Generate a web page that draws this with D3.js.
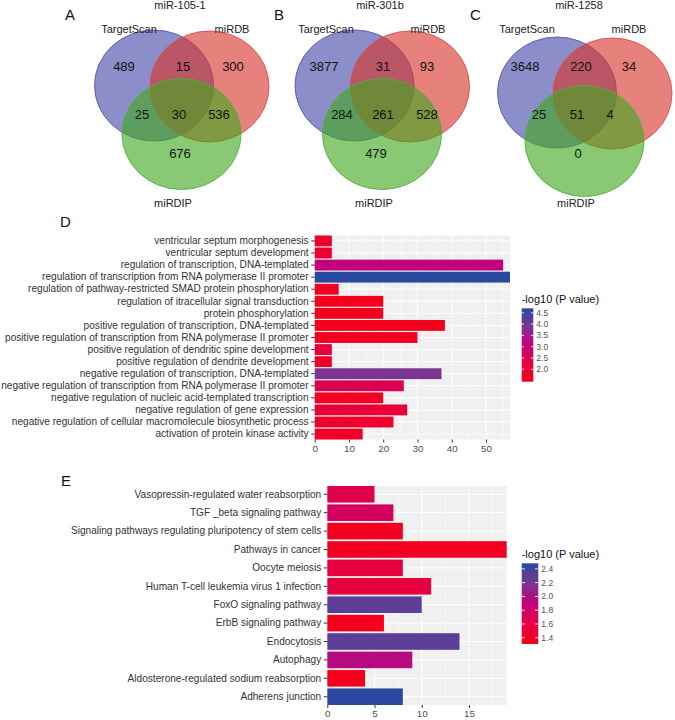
<!DOCTYPE html>
<html><head><meta charset="utf-8">
<script src="https://cdn.jsdelivr.net/npm/d3@7"></script>
<style>body{margin:0;background:#fff}svg{display:block;font-family:"Liberation Sans",Arial,Helvetica,sans-serif}</style>
</head><body><svg id="c" width="675" height="720"></svg>
<script>
// ---------- DATA ----------
const vennPanels = ["A", "B", "C"];
const vennTitles = ["miR-105-1", "miR-301b", "miR-1258"];
const vennSets = ["TargetScan", "miRDB", "miRDIP"];
// region order: TS only, TS∩DB, DB only, TS∩DIP, all three, DB∩DIP, DIP only
const vennA = [489, 15, 300, 25, 30, 536, 676];
const vennB = [3877, 31, 93, 284, 261, 528, 479];
const vennC = [3648, 220, 34, 25, 51, 4, 0];

const goTerms = [
  "ventricular septum morphogenesis",
  "ventricular septum development",
  "regulation of transcription, DNA-templated",
  "regulation of transcription from RNA polymerase II promoter",
  "regulation of pathway-restricted SMAD protein phosphorylation",
  "regulation of itracellular signal transduction",
  "protein phosphorylation",
  "positive regulation of transcription, DNA-templated",
  "positive regulation of transcription from RNA polymerase II promoter",
  "positive regulation of dendritic spine development",
  "positive regulation of dendrite development",
  "negative regulation of transcription, DNA-templated",
  "negative regulation of transcription from RNA polymerase II promoter",
  "negative regulation of nucleic acid-templated transcription",
  "negative regulation of gene expression",
  "negative regulation of cellular macromolecule biosynthetic process",
  "activation of protein kinase activity"
];
const goCounts = [5, 5, 55, 57, 7, 20, 20, 38, 30, 5, 5, 37, 26, 20, 27, 23, 14];
const goLogP = [1.8, 1.8, 3.1, 4.7, 1.6, 1.5, 1.5, 1.5, 1.55, 2.1, 1.7, 3.9, 2.5, 1.6, 2.0, 1.8, 1.7];
const goXTicks = [0, 10, 20, 30, 40, 50];
const goLegendTicks = [2.0, 2.5, 3.0, 3.5, 4.0, 4.5];

const keggTerms = [
  "Vasopressin-regulated water reabsorption",
  "TGF _beta signaling pathway",
  "Signaling pathways regulating pluripotency of stem cells",
  "Pathways in cancer",
  "Oocyte meiosis",
  "Human T-cell leukemia virus 1 infection",
  "FoxO signaling pathway",
  "ErbB signaling pathway",
  "Endocytosis",
  "Autophagy",
  "Aldosterone-regulated sodium reabsorption",
  "Adherens junction"
];
const keggCounts = [5, 7, 8, 19, 8, 11, 10, 6, 14, 9, 4, 8];
const keggLogP = [1.65, 1.75, 1.35, 1.35, 1.55, 1.55, 2.3, 1.33, 2.3, 1.95, 1.33, 2.48];
const keggXTicks = [0, 5, 10, 15];
const keggLegendTicks = [1.4, 1.6, 1.8, 2.0, 2.2, 2.4];
const legendTitle = "-log10 (P value)";

// ---------- LAYOUT ----------
const svg = d3.select("#c");
svg.append("rect").attr("width", 675).attr("height", 720).attr("fill", "#fff");

const vennLayout = [
  {cx: 154, cy: 85.5, lab: [[-30,-19.5],[29,-19.5],[79,-19.5],[-12,28.5],[25,28.5],[65,28.5],[26,67.5]], title: 180, ts: 129, db: 232, dip: 173, letter: 65},
  {cx: 354.5, cy: 85.5, lab: [[-30.5,-19.5],[28.5,-19.5],[72.5,-19.5],[-12.5,28.5],[28.5,28.5],[72.5,28.5],[21.5,67.5]], title: 380, ts: 326, db: 428, dip: 374, letter: 274},
  {cx: 557, cy: 92.5, lab: [[-32,-26.5],[24,-26.5],[72,-26.5],[-18,21.5],[20,21.5],[53,21.5],[21,60.5]], title: 579, ts: 527, db: 629, dip: 576, letter: 470}
];
const circleOffsets = [[0, 0], [55.5, 1], [27.5, 48.5]];
const circleFill = ["#4348A8", "#D9342A", "#41A81E"];
const circleStroke = ["#5356B5", "#E04A48", "#50B040"];
const vennData = [vennA, vennB, vennC];

vennLayout.forEach((L, i) => {
  const g = svg.append("g");
  g.selectAll("ellipse").data(circleOffsets).join("ellipse")
    .attr("cx", d => L.cx + d[0]).attr("cy", d => L.cy + d[1])
    .attr("rx", 59.5).attr("ry", 55.5)
    .attr("fill", (d, j) => circleFill[j]).attr("fill-opacity", 0.62)
    .attr("stroke", (d, j) => circleStroke[j]).attr("stroke-width", 0.9);
  g.selectAll("text.n").data(vennData[i]).join("text").attr("class", "n")
    .attr("x", (d, j) => L.cx + L.lab[j][0]).attr("y", (d, j) => L.cy + L.lab[j][1] + 4.7)
    .attr("text-anchor", "middle").attr("font-size", 13).attr("fill", "#111").text(d => d);
  g.append("text").attr("x", L.title).attr("y", 9).attr("text-anchor", "middle")
    .attr("font-size", 11).attr("fill", "#222").text(vennTitles[i]);
  g.append("text").attr("x", L.ts).attr("y", 33).attr("text-anchor", "middle")
    .attr("font-size", 11).attr("fill", "#222").text(vennSets[0]);
  g.append("text").attr("x", L.db).attr("y", 33).attr("text-anchor", "middle")
    .attr("font-size", 11).attr("fill", "#222").text(vennSets[1]);
  g.append("text").attr("x", L.dip).attr("y", 207).attr("text-anchor", "middle")
    .attr("font-size", 11).attr("fill", "#222").text(vennSets[2]);
  g.append("text").attr("x", L.letter).attr("y", 20).attr("font-size", 15)
    .attr("fill", "#111").text(vennPanels[i]);
});

svg.append("text").attr("x", 60).attr("y", 227).attr("font-size", 15).attr("fill", "#111").text("D");
svg.append("text").attr("x", 61).attr("y", 486).attr("font-size", 15).attr("fill", "#111").text("E");

// colour ramp (red -> magenta -> purple -> blue)
const rampStops = [[0, "#F5001A"], [0.3, "#DF004E"], [0.5, "#C2007C"], [0.75, "#7B3592"], [1, "#2C49A0"]];
const ramp = d3.scaleLinear().domain(rampStops.map(d => d[0])).range(rampStops.map(d => d[1]))
  .interpolate(d3.interpolateRgb).clamp(true);

function barChart(o) {
  const g = svg.append("g");
  const x = d3.scaleLinear().domain([0, o.xmax]).range([o.x0, o.x1]);
  const y = d3.scaleBand().domain(o.terms).range([o.y0, o.y1]).paddingInner(0.1).paddingOuter(0);
  const cs = d3.scaleLinear().domain(o.cdom).range([0, 1]);
  const col = v => ramp(cs(v));

  g.append("rect").attr("x", o.x0).attr("y", o.y0).attr("width", o.x1 - o.x0).attr("height", o.y1 - o.y0).attr("fill", "#EFF0EF");
  g.selectAll("line.mi").data(o.minor).join("line").attr("class", "mi")
    .attr("x1", d => x(d)).attr("x2", d => x(d)).attr("y1", o.y0).attr("y2", o.y1)
    .attr("stroke", "#fff").attr("stroke-width", 0.5);
  g.selectAll("line.ma").data(o.ticks).join("line").attr("class", "ma")
    .attr("x1", d => x(d)).attr("x2", d => x(d)).attr("y1", o.y0).attr("y2", o.y1)
    .attr("stroke", "#fff").attr("stroke-width", 1);
  g.selectAll("line.hy").data(o.terms).join("line").attr("class", "hy")
    .attr("x1", o.x0).attr("x2", o.x1).attr("y1", d => y(d) + y.bandwidth() / 2).attr("y2", d => y(d) + y.bandwidth() / 2)
    .attr("stroke", "#fff").attr("stroke-width", 1);

  g.selectAll("rect.bar").data(o.terms).join("rect").attr("class", "bar")
    .attr("x", x(0)).attr("y", d => y(d))
    .attr("width", (d, i) => x(o.counts[i]) - x(0)).attr("height", y.bandwidth())
    .attr("fill", (d, i) => col(o.logp[i]));

  const ya = g.append("g").attr("transform", `translate(${o.x0},0)`)
    .call(d3.axisLeft(y).tickSize(3.5).tickPadding(2.6));
  ya.select(".domain").remove();
  ya.selectAll(".tick line").attr("stroke", "#333");
  ya.selectAll(".tick text").attr("font-size", o.fs).attr("fill", "#333").attr("font-family", null);

  const xa = g.append("g").attr("transform", `translate(0,${o.y1})`)
    .call(d3.axisBottom(x).tickValues(o.ticks).tickFormat(d3.format("d")).tickSize(3).tickPadding(2.5));
  xa.select(".domain").remove();
  xa.selectAll(".tick line").attr("stroke", "#333");
  xa.selectAll(".tick text").attr("font-size", 9.8).attr("fill", "#4D4D4D").attr("font-family", null);

  const id = "grad" + o.key;
  const grad = svg.append("defs").append("linearGradient").attr("id", id)
    .attr("x1", 0).attr("x2", 0).attr("y1", 1).attr("y2", 0);
  d3.range(0, 1.0001, 0.05).forEach(t => {
    grad.append("stop").attr("offset", t).attr("stop-color", col(o.cdom[0] + t * (o.cdom[1] - o.cdom[0])));
  });
  const ly = d3.scaleLinear().domain(o.cdom).range([o.ly1, o.ly0]);
  g.append("text").attr("x", o.lx).attr("y", o.ly0 - 5.5).attr("font-size", 11).attr("fill", "#111").text(legendTitle);
  g.append("rect").attr("x", o.lx).attr("y", o.ly0).attr("width", o.lw).attr("height", o.ly1 - o.ly0)
    .attr("fill", `url(#${id})`);
  g.selectAll("line.lt1").data(o.lticks).join("line").attr("class", "lt1")
    .attr("x1", o.lx).attr("x2", o.lx + o.lw / 5).attr("y1", d => ly(d)).attr("y2", d => ly(d))
    .attr("stroke", "#fff").attr("stroke-width", 0.8);
  g.selectAll("line.lt2").data(o.lticks).join("line").attr("class", "lt2")
    .attr("x1", o.lx + o.lw * 4 / 5).attr("x2", o.lx + o.lw).attr("y1", d => ly(d)).attr("y2", d => ly(d))
    .attr("stroke", "#fff").attr("stroke-width", 0.8);
  g.selectAll("text.lt").data(o.lticks).join("text").attr("class", "lt")
    .attr("x", o.lx + o.lw + 3).attr("y", d => ly(d) + 3)
    .attr("font-size", 8.5).attr("fill", "#555").text(d => d3.format(".1f")(d));
}

barChart({key: "go", terms: goTerms, counts: goCounts, logp: goLogP, xmax: 57,
  x0: 314.7, x1: 510, y0: 235.5, y1: 439.5, ticks: goXTicks, minor: [5, 15, 25, 35, 45, 55],
  cdom: [1.45, 4.7], lticks: goLegendTicks, lx: 521.7, lw: 11.6, ly0: 308.3, ly1: 381.7, fs: 10.1});
barChart({key: "kegg", terms: keggTerms, counts: keggCounts, logp: keggLogP, xmax: 19,
  x0: 327.3, x1: 506.7, y0: 486, y1: 705, ticks: keggXTicks, minor: [2.5, 7.5, 12.5, 17.5],
  cdom: [1.31, 2.48], lticks: keggLegendTicks, lx: 521.7, lw: 16.6, ly0: 563.3, ly1: 644, fs: 10.1});
</script></body></html>
